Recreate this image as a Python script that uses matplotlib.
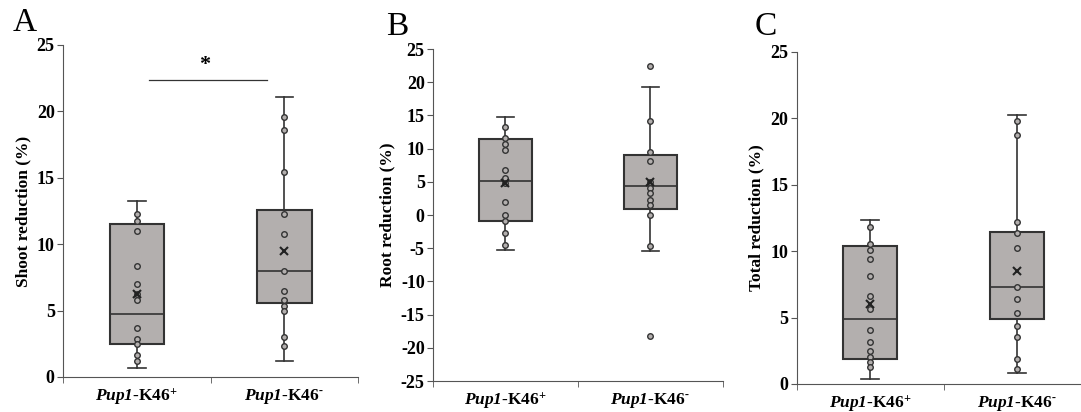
import matplotlib
matplotlib.use("Agg")
import matplotlib.pyplot as plt

plt.rcParams['font.family'] = ['Liberation Serif', 'DejaVu Serif']
plt.rcParams['font.weight'] = 'bold'
plt.rcParams['axes.unicode_minus'] = False
plt.rcParams['mathtext.fontset'] = 'custom'
# the math part is only used for the italic gene name and superscripts
plt.rcParams['mathtext.rm'] = 'Liberation Serif:italic:bold'
plt.rcParams['mathtext.it'] = 'Liberation Serif:italic:bold'
plt.rcParams['mathtext.bf'] = 'Liberation Serif:bold'

groups = [r'$\mathrm{Pup1}$-K46$^{+}$', r'$\mathrm{Pup1}$-K46$^{\text{-}}$']

# A: shoot reduction (%)
shoot_q1 = [2.51, 5.60]
shoot_med = [4.72, 7.96]
shoot_q3 = [11.48, 12.56]
shoot_lo = [0.68, 1.18]
shoot_hi = [13.24, 21.08]
shoot_mean = [6.28, 9.50]
shoot_pts_plus = [12.24, 11.73, 10.98, 8.32, 7.01, 6.28, 5.78, 3.69, 2.84, 2.51, 1.63, 1.18]
shoot_pts_minus = [19.57, 18.57, 15.43, 12.24, 10.73, 7.96, 6.46, 5.83, 5.38, 4.95, 2.99, 2.34]

# B: root reduction (%)
root_q1 = [-0.85, 0.90]
root_med = [5.13, 4.37]
root_q3 = [11.46, 9.00]
root_lo = [-5.28, -5.48]
root_hi = [14.77, 19.25]
root_mean = [4.87, 4.97]
root_pts_plus = [13.32, 11.66, 10.65, 9.75, 6.73, 5.53, 4.87, 1.91, 0.0, -0.90, -2.71, -4.52]
root_pts_minus = [22.41, 14.22, 9.45, 8.14, 4.97, 4.12, 3.27, 2.21, 1.46, 0.0, -4.72, -18.19]

# C: total reduction (%)
total_q1 = [1.91, 4.86]
total_med = [4.86, 7.27]
total_q3 = [10.38, 11.41]
total_lo = [0.40, 0.85]
total_hi = [12.36, 20.26]
total_mean = [5.99, 8.53]
total_pts_plus = [11.81, 10.56, 10.06, 9.40, 8.10, 6.62, 5.67, 4.09, 3.13, 2.48, 2.01, 1.63, 1.25]
total_pts_minus = [19.76, 18.76, 12.16, 11.33, 10.23, 7.27, 6.37, 5.37, 4.36, 3.54, 1.91, 1.15]

box_face = '#b3afae'
edge = '#333333'


def draw_panel(ax, q1, med, q3, lo, hi, mean, pts, ylabel, ylim, yticks):
    stats = []
    for i in range(2):
        stats.append({'q1': q1[i], 'med': med[i], 'q3': q3[i],
                      'whislo': lo[i], 'whishi': hi[i], 'fliers': []})
    ax.bxp(stats, positions=[0.5, 1.5], widths=0.37, patch_artist=True,
           showfliers=False, capwidths=0.12,
           boxprops=dict(facecolor=box_face, edgecolor=edge, linewidth=1.5),
           medianprops=dict(color=edge, linewidth=1.2),
           whiskerprops=dict(color=edge, linewidth=1.2),
           capprops=dict(color=edge, linewidth=1.2))
    for i, p in enumerate(pts):
        ax.plot([0.5 + i] * len(p), p, 'o', ms=4, mfc=box_face, mec=edge,
                mew=1.0, zorder=5)
    ax.plot([0.5, 1.5], mean, 'x', ms=6, color='#222222', mew=1.5, zorder=6)
    ax.set_xlim(0, 2)
    ax.set_ylim(*ylim)
    ax.set_yticks(yticks)
    ax.set_xticks([0.5, 1.5])
    ax.set_xticklabels(groups)
    ax.set_xticks([0, 1, 2], minor=True)
    ax.tick_params(axis='x', which='major', length=0, pad=7, labelsize=12.5)
    ax.tick_params(axis='x', which='minor', length=4, color='#555555')
    ax.tick_params(axis='y', length=4, color='#555555', labelsize=13, pad=2)
    ax.set_ylabel(ylabel, fontsize=12.5, fontweight='bold', labelpad=4)
    ax.spines['top'].set_visible(False)
    ax.spines['right'].set_visible(False)
    ax.spines['left'].set_color('#555555')
    ax.spines['bottom'].set_color('#555555')


fig = plt.figure(figsize=(10.81, 4.12), dpi=100)
axA = fig.add_axes([0.0583, 0.085, 0.273, 0.806])
axB = fig.add_axes([0.4006, 0.075, 0.268, 0.806])
axC = fig.add_axes([0.737, 0.068, 0.272, 0.8065])

draw_panel(axA, shoot_q1, shoot_med, shoot_q3, shoot_lo, shoot_hi, shoot_mean,
           [shoot_pts_plus, shoot_pts_minus], 'Shoot reduction (%)', (0, 25),
           range(0, 26, 5))
draw_panel(axB, root_q1, root_med, root_q3, root_lo, root_hi, root_mean,
           [root_pts_plus, root_pts_minus], 'Root reduction (%)', (-25, 25),
           range(-25, 26, 5))
draw_panel(axC, total_q1, total_med, total_q3, total_lo, total_hi, total_mean,
           [total_pts_plus, total_pts_minus], 'Total reduction (%)', (0, 25),
           range(0, 26, 5))

# significance bar on A
axA.plot([0.58, 1.38], [22.36, 22.36], color=edge, lw=0.9)
axA.text(0.96, 22.7, '*', ha='center', va='bottom', fontsize=16, fontweight='bold')

fig.text(0.012, 0.925, 'A', fontsize=24, fontweight='normal')
fig.text(0.357, 0.915, 'B', fontsize=24, fontweight='normal')
fig.text(0.698, 0.915, 'C', fontsize=24, fontweight='normal')

fig.savefig('out.png', dpi=100)
